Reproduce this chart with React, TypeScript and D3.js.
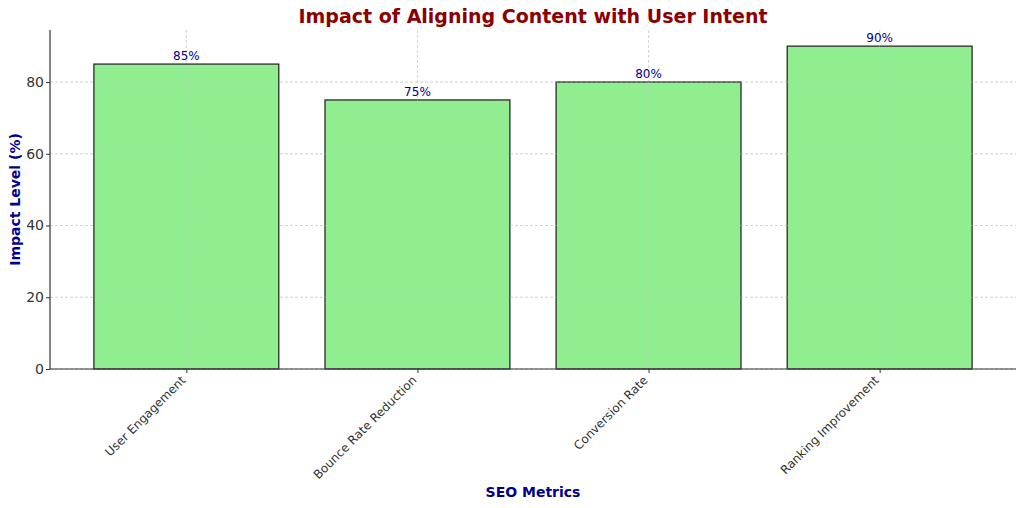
import React, { useEffect, useRef } from 'react';
import * as d3 from 'd3';

const categories = ['User Engagement', 'Bounce Rate Reduction', 'Conversion Rate', 'Ranking Improvement'];
const impactValues = [85, 75, 80, 90];
const yTicks = [0, 20, 40, 60, 80];

const App: React.FC = () => {
    const svgRef = useRef<SVGSVGElement | null>(null);

    useEffect(() => {
        if (!svgRef.current) return;
        d3.select(svgRef.current).selectAll("*").remove();

        const width = 1024;
        const height = 508;
        const margin = { top: 30, right: 8, bottom: 139, left: 50 };
        const innerWidth = width - margin.left - margin.right;
        const innerHeight = height - margin.top - margin.bottom;
        const font = "DejaVu Sans, sans-serif";

        const svg = d3.select(svgRef.current)
            .attr("width", width)
            .attr("height", height)
            .style("font-family", font);

        const g = svg.append("g")
            .attr("transform", `translate(${margin.left},${margin.top})`);

        const n = categories.length;
        const xScale = d3.scaleLinear()
            .domain([-0.59, n - 1 + 0.59])
            .range([0, innerWidth]);

        const yScale = d3.scaleLinear()
            .domain([0, d3.max(impactValues) as number * 1.05])
            .range([innerHeight, 0]);

        const barW = xScale(0.8) - xScale(0);

        const drawGrid = (cls: string, color: string, opacity: number) => {
            g.selectAll("." + cls + "y")
                .data(yTicks)
                .enter().append("line")
                .attr("x1", 0).attr("x2", innerWidth)
                .attr("y1", d => yScale(d)).attr("y2", d => yScale(d))
                .attr("stroke", color).attr("stroke-width", 0.8).attr("opacity", opacity)
                .attr("stroke-dasharray", "3,2");
            g.selectAll("." + cls + "x")
                .data(d3.range(n))
                .enter().append("line")
                .attr("x1", d => xScale(d)).attr("x2", d => xScale(d))
                .attr("y1", 0).attr("y2", innerHeight)
                .attr("stroke", color).attr("stroke-width", 0.8).attr("opacity", opacity)
                .attr("stroke-dasharray", "3,2");
        };

        drawGrid("grid", "#d8d8d8", 1);

        // bars
        g.selectAll(".bar")
            .data(impactValues)
            .enter().append("rect")
            .attr("x", (d, i) => xScale(i) - barW / 2)
            .attr("y", d => yScale(d))
            .attr("width", barW)
            .attr("height", d => innerHeight - yScale(d))
            .attr("fill", "#90ee90")
            .attr("stroke", "#2a2a2a")
            .attr("stroke-width", 1.3);

        // faint grid above bars
        drawGrid("grid2", "#c8c8c8", 0.5);

        // value labels
        g.selectAll(".val")
            .data(impactValues)
            .enter().append("text")
            .attr("x", (d, i) => xScale(i))
            .attr("y", d => yScale(d) - 4)
            .attr("text-anchor", "middle")
            .attr("font-size", 12)
            .attr("fill", "#00008b")
            .text(d => `${d}%`);

        // axes
        const yAxis = g.append("g")
            .call(d3.axisLeft(yScale).tickValues(yTicks).tickSize(4).tickPadding(2));
        const xAxis = g.append("g")
            .attr("transform", `translate(0,${innerHeight})`)
            .call(d3.axisBottom(xScale).tickValues(d3.range(n)).tickSize(4).tickFormat(() => ""));

        [yAxis, xAxis].forEach(a => {
            a.select(".domain").attr("stroke", "#333").attr("stroke-width", 1.2);
            a.selectAll(".tick line").attr("stroke", "#333");
        });
        yAxis.select(".domain").attr("d", `M0,0V${innerHeight}`);
        xAxis.select(".domain").attr("d", `M0,0H${innerWidth}`);
        yAxis.selectAll("text")
            .attr("font-size", 14).attr("fill", "#333").style("font-family", font);

        g.selectAll(".xlab")
            .data(categories)
            .enter().append("text")
            .attr("transform", (d, i) => `translate(${xScale(i) - 6},${innerHeight + 6}) rotate(-45)`)
            .attr("text-anchor", "end")
            .attr("dy", "0.7em")
            .attr("font-size", 12)
            .attr("fill", "#333")
            .text(d => d);

        // titles
        svg.append("text")
            .attr("x", margin.left + innerWidth / 2)
            .attr("y", 23)
            .attr("text-anchor", "middle")
            .attr("font-size", 19)
            .attr("font-weight", "bold")
            .attr("fill", "#8b0000")
            .text("Impact of Aligning Content with User Intent");

        svg.append("text")
            .attr("x", margin.left + innerWidth / 2)
            .attr("y", 497)
            .attr("text-anchor", "middle")
            .attr("font-size", 14)
            .attr("font-weight", "bold")
            .attr("fill", "#00008b")
            .text("SEO Metrics");

        svg.append("text")
            .attr("transform", `translate(20,${margin.top + innerHeight / 2}) rotate(-90)`)
            .attr("text-anchor", "middle")
            .attr("font-size", 14)
            .attr("font-weight", "bold")
            .attr("fill", "#00008b")
            .text("Impact Level (%)");
    }, []);

    return <svg ref={svgRef} style={{ position: 'absolute', left: 0, top: 0 }}></svg>;
};

export default App;
